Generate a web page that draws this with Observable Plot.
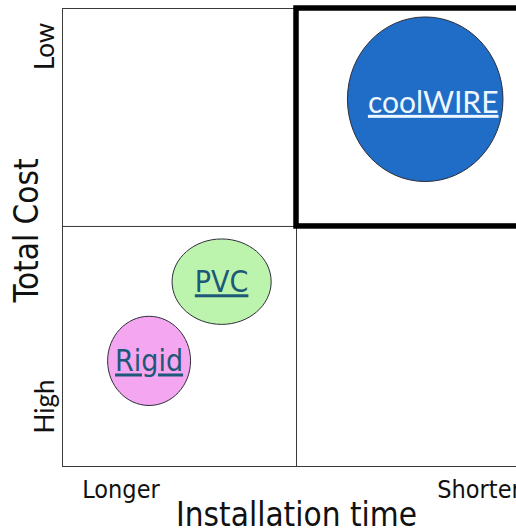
<!DOCTYPE html>
<html><head><meta charset="utf-8">
<script src="https://cdn.jsdelivr.net/npm/d3@7"></script>
<script src="https://cdn.jsdelivr.net/npm/@observablehq/plot@0.6"></script>
<style>
body{margin:0;background:#fff;}
#chart svg{overflow:hidden;display:block;}
</style></head><body><div id="chart"></div>
<script>
// ---- data ----
const products = ["coolWIRE", "PVC", "Rigid"];
const installSpeed = [1.55, 0.68, 0.37];   // x: Longer (0) → Shorter (2)
const costLevel = [1.53, 0.77, 0.44];      // y: High (0) → Low (top)
const bubbleSize = [80, 46, 43];
const xTicks = [0.25, 1.78];
const xTickLabels = ["Longer", "Shorter"];
const yTicks = [0.25, 1.75];
const yTickLabels = ["High", "Low"];
const xBreaks = [1];
const yBreaks = [1];
const highlightX = [1, 2];
const highlightY = [1, 1.908];

// ---- styles ----
const fills = ["#1f6dc6", "#bdf4ad", "#f5a6f1"];
const aspects = [0.945, 1.16, 0.93];

function ellipse(a) {
  return {
    draw(ctx, size) {
      const r = Math.sqrt(size / Math.PI);
      const rx = r * Math.sqrt(a), ry = r / Math.sqrt(a), k = 0.5522847;
      ctx.moveTo(rx, 0);
      ctx.bezierCurveTo(rx, k * ry, k * rx, ry, 0, ry);
      ctx.bezierCurveTo(-k * rx, ry, -rx, k * ry, -rx, 0);
      ctx.bezierCurveTo(-rx, -k * ry, -k * rx, -ry, 0, -ry);
      ctx.bezierCurveTo(k * rx, -ry, rx, -k * ry, rx, 0);
      ctx.closePath();
    }
  };
}

const items = products.map((name, i) => ({name, x: installSpeed[i], y: costLevel[i], size: bubbleSize[i]}));
const highlight = [{x1: highlightX[0], x2: highlightX[1], y1: highlightY[0], y2: highlightY[1]}];

const plot = Plot.plot({
  width: 516,
  height: 529,
  marginLeft: 62,
  marginRight: -14,
  marginTop: 8,
  marginBottom: 63,
  x: {domain: [0, 2]},
  y: {domain: [0, 1.908]},
  r: {type: "identity"},
  symbol: {domain: products, range: products.map((_, i) => ellipse(aspects[i]))},
  color: {domain: products, range: fills},
  marks: [
    Plot.frame({stroke: "#3a3a3a", strokeWidth: 1}),
    Plot.ruleX(xBreaks, {stroke: "#3a3a3a", strokeWidth: 1}),
    Plot.ruleY(yBreaks, {stroke: "#3a3a3a", strokeWidth: 1}),
    Plot.rect(highlight, {x1: "x1", x2: "x2", y1: "y1", y2: "y2", fill: "none", stroke: "#000", strokeWidth: 5.5}),
    Plot.dot(items, {x: "x", y: "y", r: "size", symbol: "name", fill: "name", stroke: "#2e2e3a", strokeWidth: 1}),
    Plot.text(items, {filter: d => d.name === "coolWIRE", x: "x", y: "y", text: "name", dx: 8, dy: 4,
      fill: "#eef6ff", fontSize: 30, fontFamily: "Lato"}),
    Plot.text(items, {filter: d => d.name !== "coolWIRE", x: "x", y: "y", text: "name", dy: 1,
      fill: "#1d5878", fontSize: 30, fontFamily: "DejaVu Sans Condensed"}),
    Plot.axisX({ticks: xTicks, tickFormat: d => xTickLabels[xTicks.indexOf(d)], tickSize: 0, tickPadding: 14,
      fontSize: 25, fontFamily: "DejaVu Sans Condensed", fill: "#111", label: null}),
    Plot.axisY({ticks: yTicks, tickFormat: d => yTickLabels[yTicks.indexOf(d)], tickSize: 0, tickRotate: -90,
      fontSize: 26, fontFamily: "Lato", fill: "#111", label: null}),
    Plot.text(["Installation time"], {text: d => d, frameAnchor: "bottom", dy: 59, lineAnchor: "bottom",
      textAnchor: "middle", fontSize: 33, fontFamily: "DejaVu Sans Condensed", fill: "#111"}),
    Plot.text(["Total Cost"], {text: d => d, frameAnchor: "left", rotate: -90, dx: -25, dy: -7, lineAnchor: "bottom",
      textAnchor: "middle", fontSize: 33, fontFamily: "DejaVu Sans Condensed", fill: "#111"})
  ]
});
d3.select(plot).selectAll("text")
  .filter(function() { return products.includes(this.textContent); })
  .style("text-decoration", "underline");
document.getElementById("chart").appendChild(plot);
</script></body></html>
